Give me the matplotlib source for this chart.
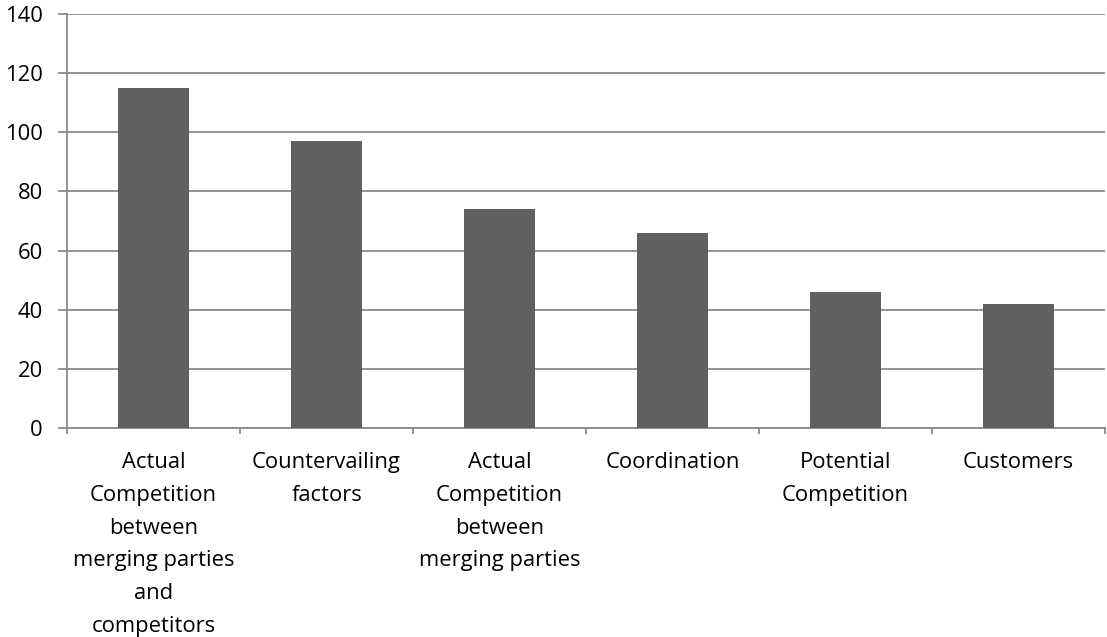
import matplotlib
matplotlib.use("Agg")
import matplotlib.pyplot as plt
import numpy as np

categories = [
    "Actual\nCompetition\nbetween\nmerging parties\nand\ncompetitors",
    "Countervailing\nfactors",
    "Actual\nCompetition\nbetween\nmerging parties",
    "Coordination",
    "Potential\nCompetition",
    "Customers",
]
values = [115, 97, 74, 66, 46, 42]
yticks = [0, 20, 40, 60, 80, 100, 120, 140]

plt.rcParams['font.family'] = ['Open Sans', 'DejaVu Sans']

fig = plt.figure(figsize=(11.07, 6.37), dpi=100)
ax = fig.add_axes([67/1107, 1 - 428/637, (1105-67)/1107, (428-14)/637])

x = np.arange(len(categories))
ax.bar(x, values, width=0.405, color="#606060", zorder=3)

ax.set_xlim(-0.5, len(categories) - 0.5)
ax.set_ylim(0, 140)
ax.set_yticks(yticks)
ax.set_yticklabels([str(v) for v in yticks], fontsize=15.8, color="black")
ax.yaxis.grid(True, color="#8a8a8a", linewidth=1.3, zorder=0)
ax.set_axisbelow(True)

ax.set_xticks(x)
ax.set_xticklabels(categories, fontsize=15.8, linespacing=1.73, color="black")
ax.tick_params(axis='x', length=0, pad=17.5)
ax.set_xticks(np.arange(-0.5, len(categories)), minor=True)
ax.tick_params(axis='x', which='minor', length=4.5, color="#8a8a8a", width=1.3)
ax.tick_params(axis='y', length=6.5, color="#8a8a8a", width=1.3, pad=11)

for s in ['top', 'right']:
    ax.spines[s].set_visible(False)
for s in ['left', 'bottom']:
    ax.spines[s].set_color("#8a8a8a")
    ax.spines[s].set_linewidth(1.3)

fig.savefig("out.png", dpi=100)
